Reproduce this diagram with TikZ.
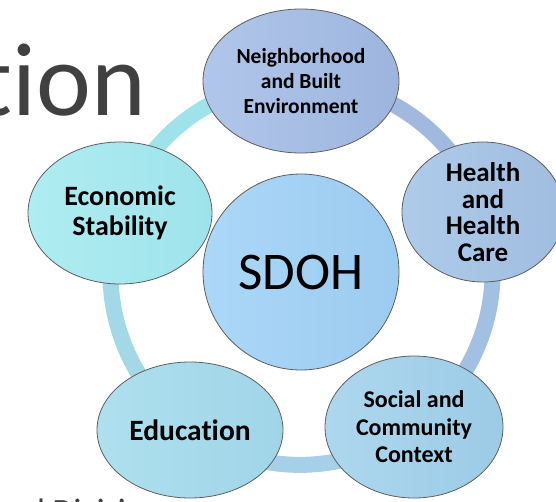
\documentclass[tikz,border=0pt]{standalone}
\usepackage{fontspec}
\setmainfont{Carlito}[Ligatures=NoCommon]
\usepackage{tikz}
\usetikzlibrary{shapes.geometric,backgrounds}
\definecolor{titlegray}{HTML}{404040}
\definecolor{edgegray}{HTML}{5E5E5E}
\definecolor{sdohL}{HTML}{ABD8F8}
\definecolor{sdohR}{HTML}{9CCBF0}
\definecolor{neighL}{HTML}{B1C6EA}
\definecolor{neighR}{HTML}{9DB5DE}
\definecolor{healthL}{HTML}{AECBEA}
\definecolor{healthR}{HTML}{A0BDE0}
\definecolor{socialL}{HTML}{ADD7EE}
\definecolor{socialR}{HTML}{9CCBE6}
\definecolor{eduL}{HTML}{AEE0EE}
\definecolor{eduR}{HTML}{A0D5E8}
\definecolor{econL}{HTML}{AEEDF2}
\definecolor{econR}{HTML}{9FE3EA}
\definecolor{ringA}{HTML}{9EE3EA}
\definecolor{ringB}{HTML}{A2B9DF}
\definecolor{ringC}{HTML}{A2C1E2}
\definecolor{ringD}{HTML}{A6D0E7}
\definecolor{ringE}{HTML}{A3D8E6}

\begin{document}
\begin{tikzpicture}[x=1pt,y=-1pt,
  elem/.style={ellipse,draw=edgegray,line width=.8pt,inner sep=0pt,align=center,font=\bfseries},
  ringseg/.style={line width=16pt,bend left=36,looseness=.94}]
\useasboundingbox (0,0) rectangle (556,501);
\clip (0,0) rectangle (556,501);
\node at (146,115) [anchor=base east,inner sep=0pt,text=titlegray,font=\fontsize{104}{104}\selectfont] (title) {tion};
\node at (27,522) [anchor=base west,inner sep=0pt,text=titlegray,font=\fontsize{34}{34}\selectfont] (subtitle) {d Division};
\node at (301,272) [circle,draw=edgegray,line width=.8pt,minimum size=196pt,inner sep=0pt,left color=sdohL,right color=sdohR,font=\fontsize{53}{53}\selectfont] (sdoh) {SDOH};
\node at (301,81) [elem,minimum width=196pt,minimum height=144pt,left color=neighL,right color=neighR,font=\bfseries\fontsize{21.5}{25}\selectfont] (neigh) {Neighborhood\\and Built\\Environment};
\node at (483,212) [elem,minimum width=162pt,minimum height=140pt,inner ysep=-5pt,left color=healthL,right color=healthR,font=\bfseries\fontsize{27}{26.5}\selectfont] (health) {Health\\and\\Health\\Care};
\node at (414,427) [elem,minimum width=178pt,minimum height=142pt,left color=socialL,right color=socialR,font=\bfseries\fontsize{24}{27.5}\selectfont] (social) {Social and\\Community\\Context};
\node at (190,430) [elem,minimum width=186pt,minimum height=136pt,left color=eduL,right color=eduR,font=\bfseries\fontsize{29.5}{30}\selectfont] (edu) {Education};
\node at (120,213) [elem,minimum width=184pt,minimum height=142pt,left color=econL,right color=econR,font=\bfseries\fontsize{28}{30}\selectfont] (econ) {Economic\\Stability};
% ring behind the ellipses
\begin{scope}[on background layer]
\draw[ringseg,draw=ringA] (econ.center) to (neigh.center);
\draw[ringseg,draw=ringB] (neigh.center) to (health.center);
\draw[ringseg,draw=ringC] (health.center) to (social.center);
\draw[ringseg,draw=ringD] (social.center) to (edu.center);
\draw[ringseg,draw=ringE] (edu.center) to (econ.center);
\end{scope}
\end{tikzpicture}
\end{document}
